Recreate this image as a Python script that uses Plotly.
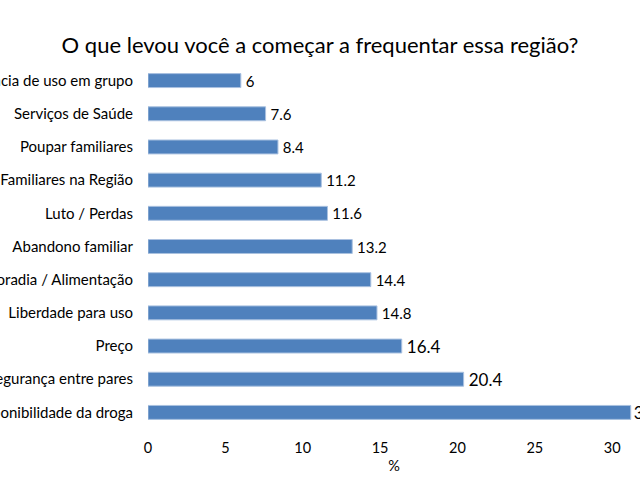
import plotly.graph_objects as go

categories = [
    "Experiência de uso em grupo",
    "Serviços de Saúde",
    "Poupar familiares",
    "Familiares na Região",
    "Luto / Perdas",
    "Abandono familiar",
    "Moradia / Alimentação",
    "Liberdade para uso",
    "Preço",
    "Segurança entre pares",
    "Disponibilidade da droga",
]
values = [6, 7.6, 8.4, 11.2, 11.6, 13.2, 14.4, 14.8, 16.4, 20.4, 31.2]
label_sizes = [15, 15, 15, 15, 15, 15, 15, 15, 17, 17, 17]
x_ticks = [0, 5, 10, 15, 20, 25, 30]

title_text = "O que levou você a começar a frequentar essa região?"
x_title = "%"

FONT = "Lato, 'Open Sans', sans-serif"

W, H = 640, 480

templates = ["\u2009%{text}"] * (len(values) - 1) + ["%{text}"]

fig = go.Figure(
    go.Bar(
        x=values,
        y=categories,
        orientation="h",
        marker=dict(color="#4f81bd", line=dict(color="#a9c1e0", width=1)),
        text=[str(v) for v in values],
        texttemplate=templates,
        textposition="outside",
        constraintext="none",
        cliponaxis=True,
        textfont=dict(size=label_sizes, color="#000000", family=FONT),
        hoverinfo="skip",
    )
)

fig.update_layout(
    width=W,
    height=H,
    margin=dict(l=148, r=0, t=64, b=51, pad=0),
    paper_bgcolor="white",
    plot_bgcolor="white",
    bargap=0.58,
    showlegend=False,
    font=dict(family=FONT, size=15, color="#000000"),
    title=dict(
        text=title_text,
        x=0.5,
        xref="container",
        xanchor="center",
        y=1 - 45 / H,
        yref="container",
        yanchor="middle",
        font=dict(size=22, family=FONT, color="#000000"),
    ),
)

fig.update_xaxes(
    range=[0, 31.8],
    tickvals=x_ticks,
    ticktext=[str(t) for t in x_ticks],
    showgrid=False,
    zeroline=False,
    showline=False,
    ticks="",
    ticklabelstandoff=8,
    tickfont=dict(size=14.5, family=FONT, color="#000000"),
    title=dict(text=x_title, font=dict(size=14.5, family=FONT, color="#000000"), standoff=6),
    automargin=False,
)

fig.update_yaxes(
    autorange="reversed",
    showgrid=False,
    zeroline=False,
    showline=False,
    ticks="",
    ticklabelstandoff=14,
    tickfont=dict(size=15, family=FONT, color="#000000"),
    automargin=False,
)

fig.write_html(
    "out.html",
    config={"displayModeBar": False},
    post_script="document.body.style.margin='0';document.body.style.overflow='hidden';",
)
